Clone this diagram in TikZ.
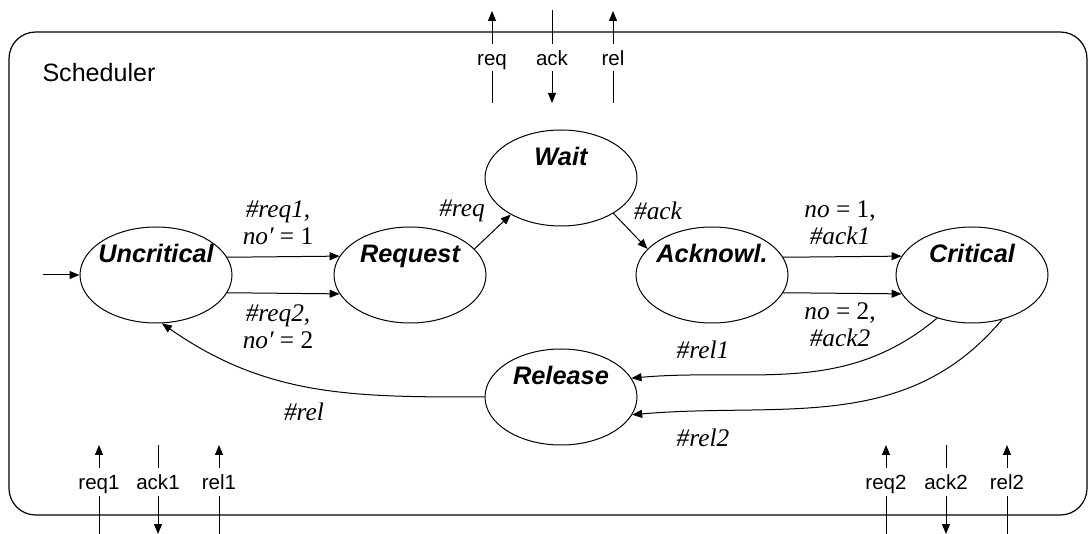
\documentclass[tikz,border=0pt]{standalone}
\usepackage{fontspec}
\setmainfont{Liberation Serif}
\setsansfont{Liberation Sans}
\usetikzlibrary{shapes.geometric,arrows.meta}

\begin{document}
\begin{tikzpicture}[x=0.75pt,y=-0.75pt,line width=0.75pt,
    >={Triangle[length=7.5pt,width=6pt]},
    state/.style={draw, ellipse, minimum width=114pt, minimum height=72pt, inner sep=0pt},
    statename/.style={font=\fontsize{19}{22}\selectfont\sffamily\bfseries\itshape,
        inner sep=0pt, text height=13.6pt, text depth=0pt, yshift=16pt},
    trans/.style={font=\fontsize{19}{20.5}\selectfont\itshape, align=center, inner sep=0pt},
    port/.style={font=\fontsize{15.4}{18}\selectfont\sffamily, inner sep=0pt,
        text height=11pt, text depth=0pt, minimum height=19.5pt}]
    % --- PARAMETERS ---
    \pgfmathsetmacro{\rowY}{275}      % middle row of states
    \pgfmathsetmacro{\topY}{58}       % labels of the upper ports
    \pgfmathsetmacro{\botY}{482}      % labels of the lower ports

    \useasboundingbox (0,0) rectangle (1089,534);

    % Frame of the component
    \draw[line width=0.9pt, rounded corners=20pt] (9,32) rectangle (1087,515);
    \node[font=\fontsize{18.8}{22}\selectfont\sffamily, anchor=base west, inner sep=0pt]
        (title) at (42,82) {Scheduler};

    % States
    \node[state, label={[statename]center:Uncritical}] (uncrit) at (156,\rowY) {};
    \node[state, label={[statename]center:Request}] (request) at (410,\rowY) {};
    \node[state, label={[statename]center:Wait}] (wait) at (561,178) {};
    \node[state, label={[statename]center:Acknowl.}] (acknowl) at (712,\rowY) {};
    \node[state, label={[statename]center:Critical}] (critical) at (972,\rowY) {};
    \node[state, label={[statename]center:Release}] (release) at (561,397) {};

    % Transitions
    \coordinate (init) at (43,\rowY);
    \draw[->] (init) -- (uncrit.west);
    \draw[->] (uncrit.14.3) -- (request.165.7);
    \draw[->] (uncrit.-14.3) -- (request.-165.7);
    \draw[->] (request.22.6) -- (wait.216);
    \draw[->] (wait.-34.7) -- (acknowl.158);
    \draw[->] (acknowl.14.3) -- (critical.165.7);
    \draw[->] (acknowl.-14.3) -- (critical.-165.7);
    \draw[->] (critical.231) to[out=-140, in=5] (release.15.5);
    \draw[->] (critical.-56) to[out=-130, in=5] (release.-14);
    \draw[->] (release.west) to[out=180, in=-35] (uncrit.-83);

    % Transition labels
    \node[trans] (lReqA) at (278,223) {\#req1,\\ no′ {\upshape = 1}};
    \node[trans] (lReqB) at (278,327) {\#req2,\\ no′ {\upshape = 2}};
    \node[trans] (lReq) at (462,211) {\#req};
    \node[trans] (lAck) at (658,211) {\#ack};
    \node[trans] (lAckA) at (840,223) {no {\upshape = 1,}\\ \#ack1};
    \node[trans] (lAckB) at (840,325) {no {\upshape = 2,}\\ \#ack2};
    \node[trans] (lRelA) at (703,350) {\#rel1};
    \node[trans] (lRelB) at (703,438) {\#rel2};
    \node[trans] (lRel) at (304,412) {\#rel};

    % Upper ports
    \node[port] (pReq) at (492,\topY) {req};
    \node[port] (pAck) at (552,\topY) {ack};
    \node[port] (pRel) at (613,\topY) {rel};
    \coordinate (pReqOut) at (492,11);   \coordinate (pReqIn) at (492,103);
    \coordinate (pAckOut) at (552,10);   \coordinate (pAckIn) at (552,103);
    \coordinate (pRelOut) at (613,11);   \coordinate (pRelIn) at (613,103);
    \draw[->] (pReq.north) -- (pReqOut);
    \draw (pReqIn) -- (pReq.south);
    \draw (pAckOut) -- (pAck.north);
    \draw[->] (pAck.south) -- (pAckIn);
    \draw[->] (pRel.north) -- (pRelOut);
    \draw (pRelIn) -- (pRel.south);

    % Lower ports, left side
    \node[port] (pReqA) at (99,\botY) {req1};
    \node[port] (pAckA) at (158,\botY) {ack1};
    \node[port] (pRelA) at (219,\botY) {rel1};
    \coordinate (pReqAIn) at (99,445);   \coordinate (pReqAOut) at (99,534);
    \coordinate (pAckAIn) at (158,445);  \coordinate (pAckAOut) at (158,534);
    \coordinate (pRelAIn) at (219,445);  \coordinate (pRelAOut) at (219,534);
    \draw[->] (pReqA.north) -- (pReqAIn);
    \draw (pReqAOut) -- (pReqA.south);
    \draw (pAckAIn) -- (pAckA.north);
    \draw[->] (pAckA.south) -- (pAckAOut);
    \draw[->] (pRelA.north) -- (pRelAIn);
    \draw (pRelAOut) -- (pRelA.south);

    % Lower ports, right side
    \node[port] (pReqB) at (886,\botY) {req2};
    \node[port] (pAckB) at (946,\botY) {ack2};
    \node[port] (pRelB) at (1007,\botY) {rel2};
    \coordinate (pReqBIn) at (886,445);  \coordinate (pReqBOut) at (886,534);
    \coordinate (pAckBIn) at (946,445);  \coordinate (pAckBOut) at (946,534);
    \coordinate (pRelBIn) at (1007,445); \coordinate (pRelBOut) at (1007,534);
    \draw[->] (pReqB.north) -- (pReqBIn);
    \draw (pReqBOut) -- (pReqB.south);
    \draw (pAckBIn) -- (pAckB.north);
    \draw[->] (pAckB.south) -- (pAckBOut);
    \draw[->] (pRelB.north) -- (pRelBIn);
    \draw (pRelBOut) -- (pRelB.south);
\end{tikzpicture}
\end{document}
